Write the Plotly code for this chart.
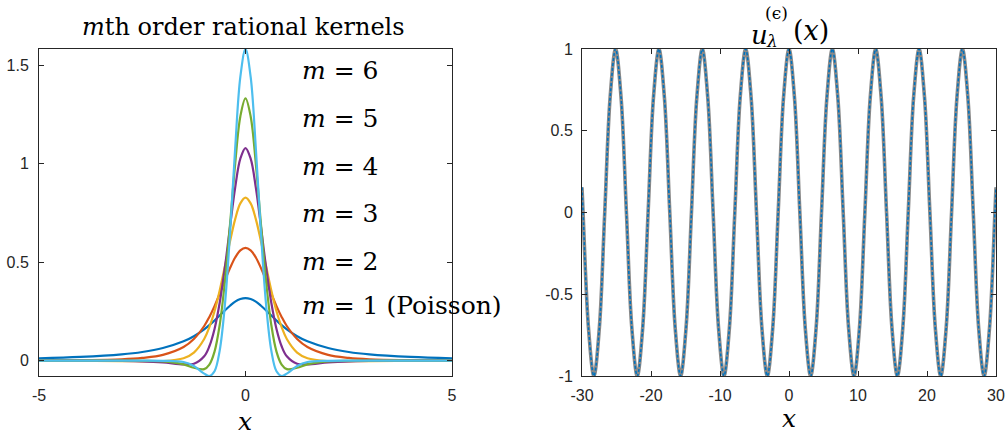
import plotly.graph_objects as go

# ---------------- data: left panel (m-th order rational kernels) ----------------
x_kernel = [-5, -4, -3, -2.5, -2, -1.5, -1.25, -1, -0.875, -0.75, -0.625, -0.5, -0.375, -0.25, -0.125, 0,
            0.125, 0.25, 0.375, 0.5, 0.625, 0.75, 0.875, 1, 1.25, 1.5, 2, 2.5, 3, 4, 5]
k_m1 = [0.012, 0.019, 0.032, 0.044, 0.064, 0.098, 0.124, 0.159, 0.180, 0.204, 0.229, 0.255, 0.279, 0.300, 0.313, 0.318,
        0.313, 0.300, 0.279, 0.255, 0.229, 0.204, 0.180, 0.159, 0.124, 0.098, 0.064, 0.044, 0.032, 0.019, 0.012]
k_m2 = [0.001, 0.0025, 0.007, 0.014, 0.029, 0.069, 0.110, 0.176, 0.222, 0.277, 0.340, 0.406, 0.470, 0.524, 0.560, 0.573,
        0.560, 0.524, 0.470, 0.406, 0.340, 0.277, 0.222, 0.176, 0.110, 0.069, 0.029, 0.014, 0.007, 0.0025, 0.001]
k_m3 = [-0.0005, -0.0011, -0.0024, -0.0033, -0.0025, 0.012, 0.041, 0.110, 0.170, 0.251, 0.356, 0.478, 0.605, 0.719, 0.799, 0.828,
        0.799, 0.719, 0.605, 0.478, 0.356, 0.251, 0.170, 0.110, 0.041, 0.012, -0.0025, -0.0033, -0.0024, -0.0011, -0.0005]
k_m4 = [0.0, -0.0003, -0.0015, -0.0036, -0.0088, -0.0185, -0.016, 0.022, 0.073, 0.161, 0.294, 0.472, 0.679, 0.879, 1.026, 1.080,
        1.026, 0.879, 0.679, 0.472, 0.294, 0.161, 0.073, 0.022, -0.016, -0.0185, -0.0088, -0.0036, -0.0015, -0.0003, 0.0]
k_m5 = [0.0, 0.0, 0.0, -0.0006, -0.0036, -0.019, -0.036, -0.043, -0.020, 0.046, 0.181, 0.400, 0.691, 1.000, 1.2405, 1.332,
        1.2405, 1.000, 0.691, 0.400, 0.181, 0.046, -0.020, -0.043, -0.036, -0.019, -0.0036, -0.0006, 0.0, 0.0, 0.0]
k_m6 = [0.0, 0.0, 0.0, 0.0, -0.001, -0.007, -0.027, -0.066, -0.078, -0.054, 0.051, 0.281, 0.645, 1.079, 1.441, 1.583,
        1.441, 1.079, 0.645, 0.281, 0.051, -0.054, -0.078, -0.066, -0.027, -0.007, -0.001, 0.0, 0.0, 0.0, 0.0]
kernel_labels = ["<i>m</i> = 1 (Poisson)", "<i>m</i> = 2", "<i>m</i> = 3", "<i>m</i> = 4", "<i>m</i> = 5", "<i>m</i> = 6"]
kernel_colors = ["#0072BD", "#D95319", "#EDB120", "#7E2F8E", "#77AC30", "#4DBEEE"]

left_xticks = [-5, 0, 5]
left_xticktext = ["-5", "0", "5"]
left_yticks = [0, 0.5, 1, 1.5]
left_yticktext = ["0", "0.5", "1", "1.5"]

# ---------------- data: right panel (u_lambda^(eps)(x)) ----------------
x_wave = [-30, -29.845, -29.060, -28.274, -27.489, -26.704, -25.918, -25.133, -24.347,
          -23.562, -22.777, -21.991, -21.206, -20.420, -19.635, -18.850, -18.064,
          -17.279, -16.493, -15.708, -14.923, -14.137, -13.352, -12.566, -11.781,
          -10.996, -10.210, -9.425, -8.639, -7.854, -7.069, -6.283, -5.498,
          -4.712, -3.927, -3.142, -2.356, -1.571, -0.785, 0,
          0.785, 1.571, 2.356, 3.142, 3.927, 4.712, 5.498, 6.283,
          7.069, 7.854, 8.639, 9.425, 10.210, 10.996, 11.781, 12.566,
          13.352, 14.137, 14.923, 15.708, 16.493, 17.279, 18.064, 18.850,
          19.635, 20.420, 21.206, 21.991, 22.777, 23.562, 24.347, 25.133,
          25.918, 26.704, 27.489, 28.274, 29.060, 29.845, 30]
u_wave = [0.154, 0, -0.707, -1, -0.707, 0, 0.707, 1, 0.707,
          0, -0.707, -1, -0.707, 0, 0.707, 1, 0.707,
          0, -0.707, -1, -0.707, 0, 0.707, 1, 0.707,
          0, -0.707, -1, -0.707, 0, 0.707, 1, 0.707,
          0, -0.707, -1, -0.707, 0, 0.707, 1,
          0.707, 0, -0.707, -1, -0.707, 0, 0.707, 1,
          0.707, 0, -0.707, -1, -0.707, 0, 0.707, 1,
          0.707, 0, -0.707, -1, -0.707, 0, 0.707, 1,
          0.707, 0, -0.707, -1, -0.707, 0, 0.707, 1,
          0.707, 0, -0.707, -1, -0.707, 0, 0.154]
right_xticks = [-30, -20, -10, 0, 10, 20, 30]
right_xticktext = ["-30", "-20", "-10", "0", "10", "20", "30"]
right_yticks = [-1, -0.5, 0, 0.5, 1]
right_yticktext = ["-1", "-0.5", "0", "0.5", "1"]

# ---------------- figure ----------------
W, H = 1007, 435


def px(xp):
    return xp / W


def py(yp):
    return 1 - yp / H


fig = go.Figure()
for vals, col in zip([k_m1, k_m2, k_m3, k_m4, k_m5, k_m6], kernel_colors):
    fig.add_trace(go.Scatter(x=x_kernel, y=vals, mode="lines",
                             line=dict(color=col, width=2.2, shape="spline"),
                             xaxis="x", yaxis="y", hoverinfo="skip"))

fig.add_trace(go.Scatter(x=x_wave, y=u_wave, mode="lines",
                         line=dict(color="#8a8a8a", width=3.6, shape="spline"),
                         xaxis="x2", yaxis="y2", hoverinfo="skip"))
fig.add_trace(go.Scatter(x=x_wave, y=u_wave, mode="lines",
                         line=dict(color="#0072BD", width=1.6, dash="3px,2px", shape="spline"),
                         xaxis="x2", yaxis="y2", hoverinfo="skip"))

axis_common = dict(showline=True, linecolor="#262626", linewidth=1, mirror="ticks",
                   ticks="inside", ticklen=5, tickwidth=1, tickcolor="#262626",
                   showgrid=False, zeroline=False, automargin=False,
                   tickfont=dict(family="Liberation Sans, Arial, sans-serif", size=16, color="#262626"))

fig.update_layout(
    width=W, height=H,
    margin=dict(l=0, r=0, t=0, b=0, autoexpand=False),
    paper_bgcolor="white", plot_bgcolor="white",
    showlegend=False,
    xaxis=dict(domain=[px(39), px(452)], range=[-5, 5], tickmode="array",
               tickvals=left_xticks, ticktext=left_xticktext, anchor="y",
               ticklabelstandoff=5, **axis_common),
    yaxis=dict(domain=[py(376), py(49)], range=[-0.078, 1.583], tickmode="array",
               tickvals=left_yticks, ticktext=left_yticktext, anchor="x",
               ticklabelstandoff=6, **axis_common),
    xaxis2=dict(domain=[px(582), px(996)], range=[-30, 30], tickmode="array",
                tickvals=right_xticks, ticktext=right_xticktext, anchor="y2",
                ticklabelstandoff=5, **axis_common),
    yaxis2=dict(domain=[py(376), py(49)], range=[-1, 1], tickmode="array",
                tickvals=right_yticks, ticktext=right_yticktext, anchor="x2",
                ticklabelstandoff=5, **axis_common),
)

serif = "DejaVu Serif, Liberation Serif, serif"
ann = []
# left title
ann.append(dict(x=px(243), y=py(27), text="<i>m</i>th order rational kernels",
                font=dict(family=serif, size=24, color="black")))
# kernel labels (m=1 at bottom ... m=6 at top)
label_y = [305, 261, 213, 166, 118, 71]
for lab, yy in zip(kernel_labels, label_y):
    ann.append(dict(x=px(300), y=py(yy), text=lab, xanchor="left",
                    font=dict(family=serif, size=25, color="black")))
# x labels
ann.append(dict(x=px(245), y=py(421), text="<i>x</i>", font=dict(family=serif, size=25, color="black")))
ann.append(dict(x=px(789), y=py(418), text="<i>x</i>", font=dict(family=serif, size=25, color="black")))
# right title  u_lambda^(eps)(x)
ann.append(dict(x=px(759), y=py(35), text="<i>u</i>", font=dict(family=serif, size=26, color="black")))
ann.append(dict(x=px(776), y=py(13), text="(ϵ)", font=dict(family=serif, size=17, color="black")))
ann.append(dict(x=px(772), y=py(41), text="<i>λ</i>", font=dict(family=serif, size=17, color="black")))
ann.append(dict(x=px(811), y=py(31), text="(<i>x</i>)", font=dict(family=serif, size=27, color="black")))

for a in ann:
    a.setdefault("xanchor", "center")
    a.update(xref="paper", yref="paper", yanchor="middle", showarrow=False)
fig.update_layout(annotations=ann)

fig.write_html("out.html")
